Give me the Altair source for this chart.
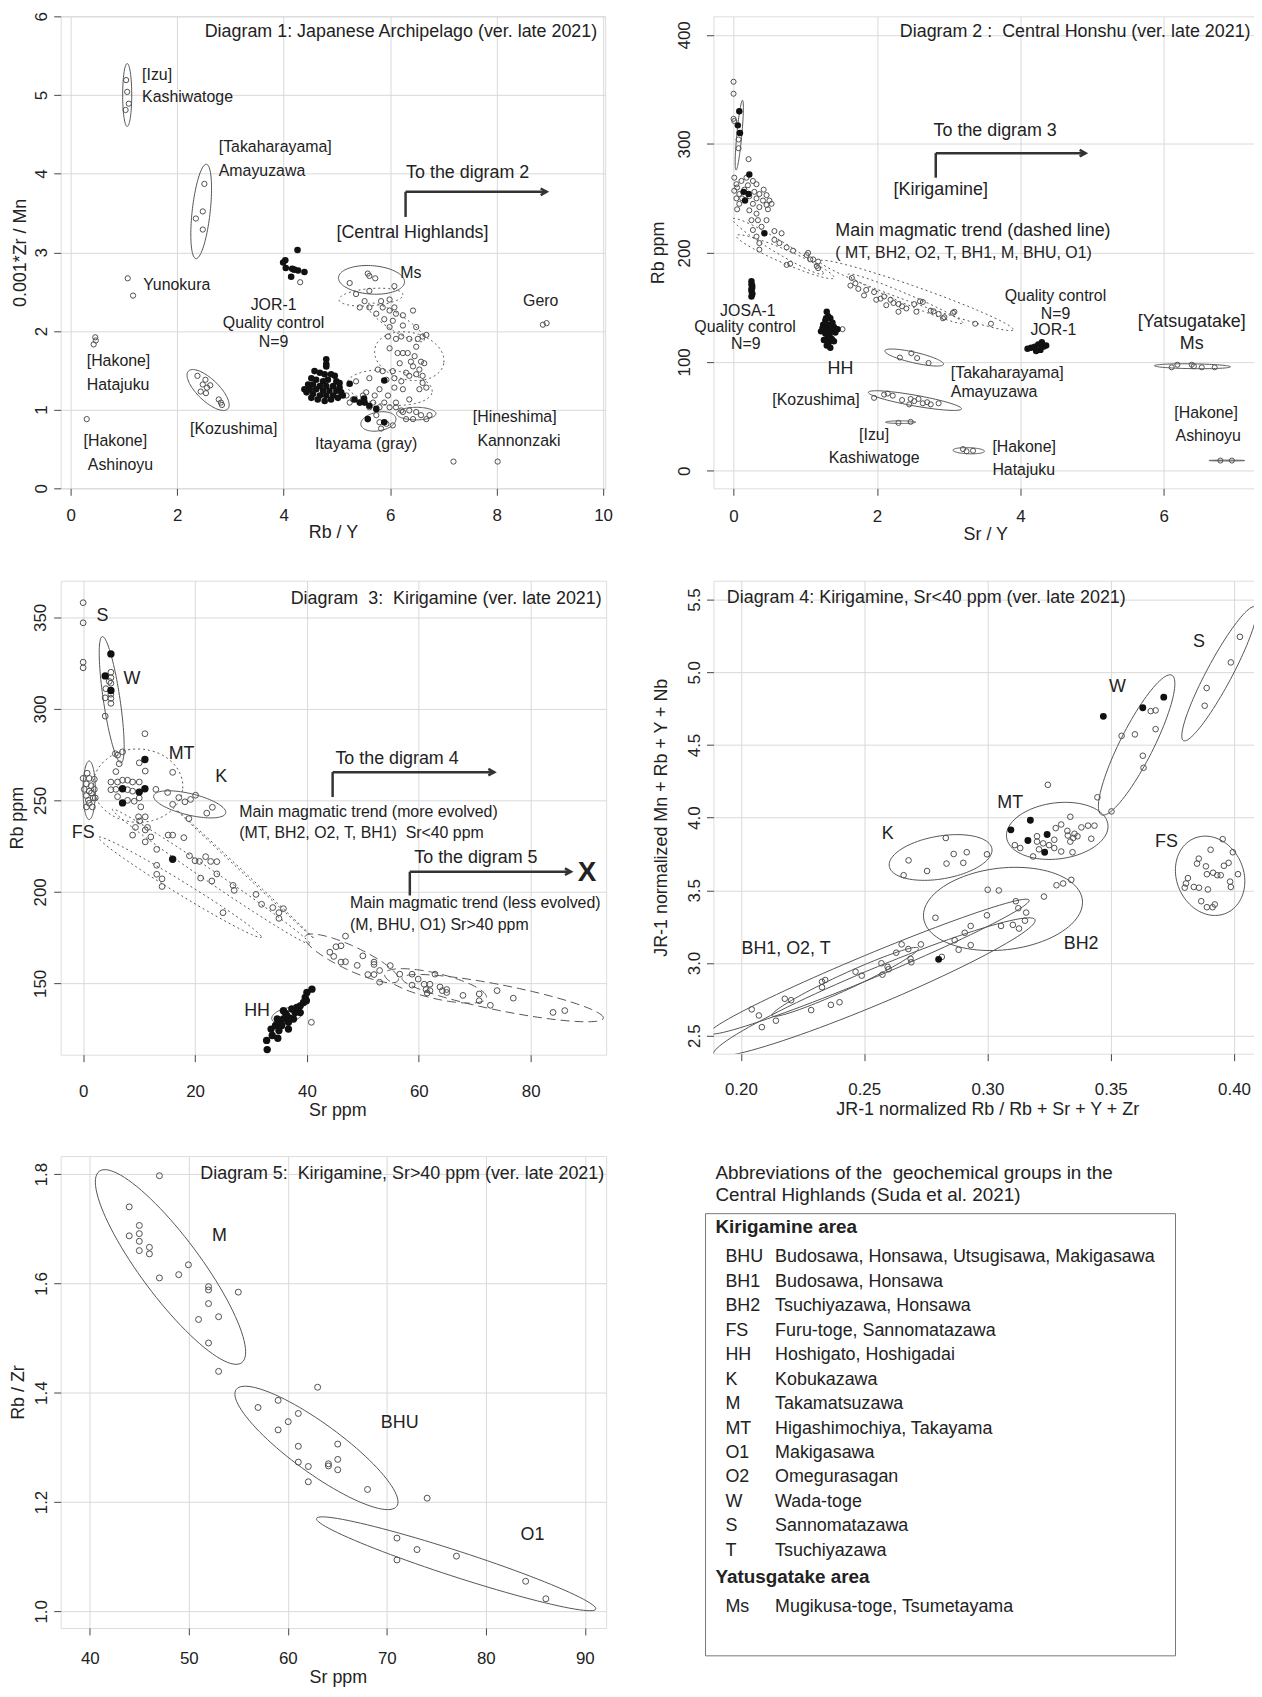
import altair as alt
import numpy as np
import pandas as pd

FONT = "Liberation Sans"
INK = "#222222"
PTC = "#505050"
GRID = "#d9d9d9"
NB = "\u00a0"

# ======================= Diagram 1 =======================
P1_OPEN_SIDE = [
    (1.04, 5.19), (1.06, 5.04), (1.09, 4.89), (1.03, 4.81),
    (2.51, 3.87), (2.48, 3.52), (2.35, 3.43), (2.48, 3.29),
    (1.07, 2.67), (1.17, 2.45),
    (0.46, 1.92), (0.43, 1.83), (0.47, 1.88),
    (0.30, 0.88),
    (2.38, 1.43), (2.53, 1.38), (2.62, 1.31), (2.48, 1.32), (2.44, 1.23), (2.56, 1.28),
    (2.54, 1.21), (2.78, 1.13), (2.82, 1.09), (2.84, 1.06),
    (8.87, 2.08), (8.94, 2.10),
    (7.19, 0.34), (8.02, 0.34),
    (4.31, 2.62),
]
P1_OPEN_CH = [
    (5.24, 2.61), (5.58, 2.73), (5.72, 2.67), (6.08, 2.57), (5.61, 2.70), (5.36, 2.47), (5.61, 2.51),
    (5.83, 2.38), (5.99, 2.40), (5.52, 2.38), (5.43, 2.30), (5.61, 2.30), (5.86, 2.30), (5.74, 2.22),
    (5.99, 2.26), (6.08, 2.30), (6.11, 2.22), (5.89, 2.15), (6.05, 2.13), (6.24, 2.20), (6.43, 2.26),
    (6.49, 2.05), (6.24, 2.07), (5.99, 2.05), (5.96, 1.93), (6.11, 1.90), (6.21, 1.93), (6.36, 1.90),
    (6.52, 1.90), (6.61, 1.93), (6.68, 1.95), (6.49, 1.80), (5.99, 1.78), (6.24, 1.72), (6.33, 1.72),
    (6.14, 1.72), (6.46, 1.68), (6.39, 1.61), (6.58, 1.61), (6.64, 1.59), (6.18, 1.59), (6.43, 1.55),
    (6.55, 1.51), (6.61, 1.43), (6.49, 1.45), (6.30, 1.47), (6.05, 1.49), (5.86, 1.49), (5.77, 1.51),
    (5.61, 1.40), (5.36, 1.36), (5.93, 1.38), (6.08, 1.40), (6.21, 1.36), (6.36, 1.43), (6.08, 1.28),
    (6.24, 1.26), (5.80, 1.26), (5.55, 1.22), (5.71, 1.18), (5.96, 1.18), (5.89, 1.09), (6.11, 1.09),
    (6.36, 1.13), (6.55, 1.26), (6.61, 1.34), (6.68, 1.28), (5.68, 1.09), (5.61, 1.03), (5.80, 1.03),
    (5.99, 1.03), (6.11, 1.03), (6.24, 0.97), (6.36, 0.99), (6.49, 0.97), (6.58, 0.93), (6.68, 0.88),
    (6.74, 0.93), (6.43, 0.88), (6.30, 0.88), (6.21, 0.99), (5.74, 0.93), (5.80, 0.84), (5.93, 0.82),
    (5.83, 0.76), (6.05, 0.80), (5.30, 1.13), (5.43, 1.09), (5.49, 1.18), (5.18, 1.18), (5.24, 1.09),
]
P1_FILLED = [
    (4.03, 2.90), (4.26, 3.03), (4.04, 2.80), (4.16, 2.79), (4.27, 2.77), (4.39, 2.75), (4.14, 2.69),
    (3.99, 2.87), (4.20, 2.78),
    (4.80, 1.64), (4.80, 1.58), (4.80, 1.55), (4.58, 1.49), (4.68, 1.47), (4.77, 1.45), (4.89, 1.45),
    (4.96, 1.43), (4.52, 1.40), (4.61, 1.38), (4.74, 1.36), (4.83, 1.38), (4.99, 1.36), (5.05, 1.34),
    (4.46, 1.32), (4.55, 1.32), (4.68, 1.30), (4.80, 1.30), (4.93, 1.30), (5.05, 1.28), (4.39, 1.26),
    (4.49, 1.26), (4.61, 1.26), (4.74, 1.24), (4.86, 1.24), (4.99, 1.24), (5.08, 1.22), (4.43, 1.22),
    (4.55, 1.20), (4.68, 1.18), (4.80, 1.18), (4.93, 1.18), (5.02, 1.15), (4.52, 1.15), (4.64, 1.13),
    (4.77, 1.11), (4.89, 1.13), (5.11, 1.18),
    (5.24, 1.33), (5.89, 1.37), (5.33, 1.13), (5.43, 1.09), (5.52, 1.09), (5.61, 1.05), (5.74, 1.01),
    (5.58, 0.88), (5.89, 0.84), (5.51, 1.14),
]
# ellipses: style, cx, cy, ax, ay, bx, by  (conjugate semi-axes in data units)
P1_ELL = [
    ("solid", 1.06, 5.00, 0.0, 0.40, 0.085, 0.0),
    ("solid", 2.45, 3.52, 0.095, 0.60, 0.17, 0.0),
    ("solid", 2.58, 1.25, 0.37, -0.24, 0.14, 0.10),
    ("solid", 5.65, 2.65, 0.62, -0.03, 0.02, 0.18),
    ("solid", 5.78, 0.85, 0.33, 0.03, 0.0, 0.12),
    ("solid", 6.49, 0.95, 0.37, 0.0, 0.0, 0.08),
    ("dot", 5.64, 2.43, 0.60, 0.03, 0.0, 0.11),
    ("dot", 6.11, 2.11, 0.53, -0.23, 0.085, 0.09),
    ("dot", 6.36, 1.68, 0.65, -0.08, 0.05, 0.30),
    ("dot", 5.99, 1.28, 0.80, -0.05, 0.03, 0.22),
]
# text: label, x, y, size, align
P1_TEXT = [
    ("Diagram 1: Japanese Archipelago (ver. late 2021)", 9.89, 5.80, 18, "right"),
    ("[Izu]", 1.34, 5.26, 16, "left"), ("Kashiwatoge", 1.34, 4.97, 16, "left"),
    ("[Takaharayama]", 2.78, 4.34, 16, "left"), ("Amayuzawa", 2.78, 4.03, 16, "left"),
    ("Yunokura", 1.36, 2.58, 16, "left"),
    ("[Hakone]", 0.30, 1.62, 16, "left"), ("Hatajuku", 0.30, 1.31, 16, "left"),
    ("[Hakone]", 0.24, 0.60, 16, "left"), ("Ashinoyu", 0.32, 0.30, 16, "left"),
    ("Ms", 6.19, 2.74, 16, "left"),
    ("JOR-1", 3.81, 2.33, 16, "center"), ("Quality control", 3.81, 2.10, 16, "center"),
    ("N=9", 3.81, 1.86, 16, "center"), ("[Kozushima]", 3.06, 0.75, 16, "center"),
    ("Itayama (gray)", 5.55, 0.56, 16, "center"), ("[Hineshima]", 8.34, 0.91, 16, "center"),
    ("Kannonzaki", 8.42, 0.60, 16, "center"), ("Gero", 8.83, 2.38, 16, "center"),
    ("[Central Highlands]", 6.42, 3.24, 18, "center"),
    ("To the digram 2", 6.30, 4.01, 18, "left"),
]
P1_ARROWS = [(6.29, 3.45, 6.29, 3.77), (6.29, 3.77, 8.94, 3.77)]
P1_HEADS = [(8.94, 3.77)]

# ======================= Diagram 2 =======================
P2_OPEN = [
    (0.00, 357), (0.00, 346), (0.00, 323), (0.01, 321), (0.08, 310), (0.07, 304), (0.07, 296), (0.21, 286),
    (0.01, 269), (0.04, 263), (0.11, 266), (0.18, 269), (0.27, 266), (0.32, 263), (0.01, 257), (0.08, 254),
    (0.29, 256), (0.36, 254), (0.46, 253), (0.50, 248), (0.41, 248), (0.32, 250), (0.04, 250), (0.08, 245),
    (0.27, 245), (0.36, 242), (0.46, 244), (0.53, 245), (0.22, 239), (0.32, 236), (0.25, 230), (0.34, 230),
    (0.46, 230), (0.27, 221), (0.39, 224), (0.57, 220), (0.67, 218), (0.32, 215), (0.36, 209), (0.57, 212),
    (0.64, 209), (0.74, 205), (0.83, 202), (0.74, 189), (0.79, 190), (1.02, 198), (1.07, 194), (1.11, 194),
    (1.18, 192), (1.16, 188), (0.36, 203), (1.04, 200), (1.18, 186), (0.05, 260), (0.15, 258), (0.20, 262),
    (0.12, 250), (0.22, 252), (0.42, 258), (0.48, 240), (0.05, 240),
    (1.65, 177), (1.63, 170), (1.74, 167), (1.82, 161), (1.96, 164), (1.99, 157), (2.10, 160), (2.19, 157),
    (2.13, 152), (2.30, 153), (2.41, 149), (2.52, 153), (2.64, 155), (2.55, 146), (2.75, 147), (2.86, 144),
    (2.94, 141), (3.08, 146), (3.37, 135), (3.59, 135), (2.30, 146), (2.23, 154), (2.60, 155.6),
    (2.79, 146.4), (2.92, 140), (3.06, 145), (1.70, 172), (1.85, 166), (2.05, 158), (2.35, 151),
    (2.32, 104), (2.48, 108), (2.56, 103.5), (2.72, 99),
    (1.96, 67), (2.10, 70), (2.15, 71), (2.22, 69), (2.47, 66), (2.52, 64), (2.64, 62), (2.75, 61),
    (2.86, 62), (2.45, 61), (2.58, 66), (2.70, 63), (2.35, 65),
    (2.30, 44), (2.47, 45),
    (3.20, 20), (3.25, 18), (3.34, 18.5),
    (6.11, 95), (6.19, 97.4), (6.39, 97.4), (6.42, 96), (6.53, 95), (6.71, 95),
    (6.79, 9.5), (6.95, 9.5),
    (1.52, 130),
]
P2_FILLED = [
    (0.08, 330), (0.06, 317), (0.09, 310), (0.22, 272), (0.14, 256), (0.21, 254), (0.16, 248), (0.43, 218),
    (0.25, 174), (0.25, 171), (0.26, 168), (0.25, 165), (0.26, 162), (0.25, 160), (0.26, 170), (0.25, 167),
    (0.26, 163),
    (1.30, 146), (1.32, 142), (1.35, 140), (1.28, 138), (1.38, 136), (1.25, 134), (1.33, 134), (1.40, 132),
    (1.30, 130), (1.36, 129), (1.22, 128), (1.28, 126), (1.34, 125), (1.42, 127), (1.31, 122), (1.37, 121),
    (1.26, 120), (1.33, 118), (1.40, 119), (1.30, 115), (1.35, 113), (1.24, 131), (1.45, 130), (1.29, 140),
    (4.10, 112), (4.15, 113), (4.20, 114), (4.25, 116), (4.28, 111), (4.32, 114), (4.36, 115), (4.22, 110),
    (4.30, 118),
]
P2_ELL = [
    ("solid", 0.08, 308, 0.045, 32, 0.035, 0),
    ("solid", 2.52, 104, 0.41, -6, 0, 5),
    ("solid", 2.53, 64.5, 0.65, -7.5, 0, 5),
    ("solid", 2.33, 44.7, 0.21, 0, 0, 1.2),
    ("solid", 3.28, 18.5, 0.22, -0.5, 0, 2.8),
    ("solid", 6.40, 96, 0.53, -0.5, 0, 2.2),
    ("solid", 6.88, 9.5, 0.25, 0, 0, 0.4),
    ("dot", 0.62, 206, 0.63, -24, -0.06, 9),
    ("dot", 0.72, 196.5, 0.68, -18.5, -0.05, 8),
    ("dot", 2.55, 161, 1.35, -31, -0.05, 9),
    ("dot", 2.40, 158, 0.80, -22, -0.04, 6),
]
P2_TEXT = [
    ("Diagram 2 :" + NB + " Central Honshu (ver. late 2021)", 7.21, 403, 18, "right"),
    ("To the digram 3", 2.79, 312, 18, "left"),
    ("[Kirigamine]", 2.89, 258, 18, "center"),
    ("Main magmatic trend (dashed line)", 1.42, 220, 18, "left"),
    ("( MT, BH2, O2, T, BH1, M, BHU, O1)", 1.42, 199.5, 16, "left"),
    ("JOSA-1", 0.20, 147, 16, "center"), ("Quality control", 0.16, 132, 16, "center"),
    ("N=9", 0.17, 116, 16, "center"),
    ("HH", 1.49, 93, 18, "center"),
    ("Quality control", 4.49, 160, 16, "center"), ("N=9", 4.49, 144, 16, "center"),
    ("JOR-1", 4.46, 129, 16, "center"),
    ("[Yatsugatake]", 6.39, 137, 18, "center"), ("Ms", 6.39, 116.5, 18, "center"),
    ("[Takaharayama]", 3.03, 90, 16, "left"), ("Amayuzawa", 3.03, 72, 16, "left"),
    ("[Kozushima]", 1.15, 65, 16, "center"),
    ("[Izu]", 1.96, 33, 16, "center"), ("Kashiwatoge", 1.96, 11.5, 16, "center"),
    ("[Hakone]", 3.61, 22, 16, "left"), ("Hatajuku", 3.61, 0.6, 16, "left"),
    ("[Hakone]", 6.59, 53.5, 16, "center"), ("Ashinoyu", 6.62, 32, 16, "center"),
]
P2_ARROWS = [(2.82, 269, 2.82, 291.5), (2.82, 291.5, 4.91, 291.5)]
P2_HEADS = [(4.91, 291.5)]

# ======================= Diagram 3 =======================
P3_OPEN = [
    (0.0, 358), (0.0, 347), (0.0, 325.5), (0.0, 322.4),
    (4.96, 320), (4.96, 317), (4.96, 314), (4.06, 311), (4.96, 308), (3.94, 306), (4.96, 305.7),
    (4.96, 303), (3.94, 296), (4.66, 315),
    (0.0, 262), (0.72, 264.8), (1.08, 262), (2.0, 261.5), (0.58, 259), (1.44, 258), (2.0, 256),
    (1.08, 255), (0.58, 252.6), (1.8, 251.3), (0.93, 250), (2.16, 251.3), (0.58, 246.4), (1.65, 246.4),
    (1.08, 248.4), (1.5, 254), (0.2, 256),
    (11.04, 286.4), (7.04, 276.5), (6.15, 274.7), (6.45, 270), (10.03, 270.5), (11.1, 266), (16.0, 265.3),
    (5.85, 265.7), (4.96, 260), (6.15, 260), (7.04, 261), (7.94, 261), (8.84, 260), (10.03, 260),
    (5.85, 256), (7.94, 255.8), (8.84, 255), (4.96, 255.8), (6.15, 252), (7.94, 250), (9.13, 249.5),
    (10.03, 251.3), (5.75, 275.5),
    (13.0, 256), (15.1, 254.3), (17.1, 251.5), (16.0, 247.8), (18.2, 249.2), (19.2, 250.5), (20.1, 252.8),
    (22.1, 243), (23.1, 246.2), (18.9, 240),
    (18.0, 229.6), (19.0, 219.7), (20.0, 217), (20.8, 216.6), (21.9, 219.2), (22.8, 216.6), (23.9, 216.5),
    (23.9, 209.8), (21.0, 207.5), (23.0, 205.9), (26.8, 203.5), (27.0, 200.8), (30.9, 198.6), (31.9, 193.2),
    (33.9, 191.4), (35.0, 188.6), (35.8, 190.8), (35.0, 185.5), (25.0, 188.6),
    (9.35, 235.2), (9.9, 241), (11.1, 241), (11.5, 235.2), (11.1, 227.3), (12.1, 230), (13.15, 223.2),
    (13.15, 214.5), (13.15, 209.6), (14.1, 207.1), (14.1, 202.9), (16.0, 231), (15.2, 231), (8.84, 231),
    (10.3, 246.4), (10.1, 238.7), (11.1, 233.8),
    (46.9, 175.8), (44.1, 167), (44.8, 164.7), (45.2, 170), (46.1, 170.5), (46.1, 161.6), (46.9, 161.8),
    (49.0, 159.8), (50.0, 165), (52.0, 161.6), (52.0, 160.3), (50.9, 154.8), (52.0, 154.8), (53.0, 157),
    (53.0, 150.6), (54.9, 159.7), (56.6, 155), (58.8, 155), (58.8, 149), (59.9, 152.3), (60.96, 149.5),
    (61.3, 146.6), (61.5, 144.7), (62.0, 149.5), (62.0, 146), (62.9, 155), (63.8, 148), (64.2, 146),
    (65.0, 146.6), (65.0, 145), (67.9, 143.4), (70.8, 144.2), (70.8, 140.5), (72.8, 138), (74.0, 146),
    (76.9, 141.9), (84.0, 134.1), (86.1, 135.1),
    (40.8, 128.7),
]
P3_FILLED = [
    (4.96, 330), (3.94, 318), (4.96, 310),
    (11.04, 272.3), (7.04, 256.3), (10.03, 254.5), (11.04, 256.3), (7.04, 248.6), (16.0, 217.8),
    (32.9, 113.8), (32.8, 118.8), (33.8, 121.5), (34.8, 120), (33.6, 125), (34.4, 127), (35.0, 128.7),
    (35.8, 130.5), (35.5, 127), (36.4, 132.3), (36.7, 128.7), (37.6, 130.5), (37.9, 134), (38.2, 136.8),
    (38.8, 137.7), (39.4, 139.5), (39.7, 142.3), (40.0, 145), (40.9, 146.8), (38.8, 134), (37.3, 136),
    (35.8, 135), (34.7, 130.5), (35.0, 124.2), (36.7, 125), (39.9, 140.5), (36.2, 133.5), (37.0, 131),
]
P3_ELL = [
    ("solid", 5.1, 305, -1.65, 34.5, 1.5, 0),
    ("solid", 1.08, 255.5, 0, 16, 1.1, 0),
    ("solid", 19.05, 247.8, 6.45, -4.35, 0, 6),
    ("solid", 36.5, 132.5, 2.6, 3, -1.0, 3.2),
    ("dot", 9.8, 258, 8, -1.5, 0.5, 20),
    ("dot", 17.3, 202.5, 14.5, -26.7, -1.3, 6.5),
    ("dot", 22.9, 208.3, 17.6, -36.2, -1.6, 7.2),
    ("dot", 29.0, 209.6, 12.2, -34.8, -1.7, 5.5),
    ("dash", 48.0, 163.6, 8.3, -10.2, -1.13, 8.6),
    ("dash", 63.0, 148.6, 9.1, -5.8, -0.5, 7.4),
    ("dash", 75.0, 141.9, 18.0, -10.6, -0.47, 7.4),
]
P3_TEXT = [
    ("Diagram" + NB + " 3:" + NB + " Kirigamine (ver. late 2021)", 92.7, 360, 18, "right"),
    ("S", 3.45, 350.6, 18, "center"), ("W", 8.7, 316.5, 18, "center"), ("MT", 17.6, 275.5, 18, "center"),
    ("K", 24.7, 262.9, 18, "center"), ("FS", 0.0, 231.9, 18, "center"), ("HH", 31.1, 135, 18, "center"),
    ("To the digram 4", 45.1, 272.6, 18, "left"), ("To the digram 5", 59.2, 218.3, 18, "left"),
    ("Main magmatic trend (more evolved)", 27.9, 243.5, 16, "left"),
    ("(MT, BH2, O2, T, BH1)" + NB + " Sr<40 ppm", 27.9, 231.9, 16, "left"),
    ("Main magmatic trend (less evolved)", 47.7, 193.8, 16, "left"),
    ("(M, BHU, O1) Sr>40 ppm", 47.7, 182.1, 16, "left"),
]
P3_ARROWS = [(44.6, 251.8, 44.6, 265.4), (44.6, 265.4, 73.5, 265.4),
             (58.4, 198.0, 58.4, 211.0), (58.4, 211.0, 87.2, 211.0)]
P3_HEADS = [(73.5, 265.4), (87.2, 211.0)]
P3_CROSS = [(90.1, 210.2)]

# ======================= Diagram 4 =======================
P4_OPEN = [
    (0.4024, 5.244), (0.3987, 5.068), (0.3889, 4.892), (0.3881, 4.770),
    (0.3682, 4.738), (0.3662, 4.733), (0.3682, 4.609), (0.3544, 4.563), (0.3598, 4.573), (0.3630, 4.426),
    (0.3633, 4.343), (0.3446, 4.140), (0.3503, 4.043),
    (0.3245, 4.226), (0.3111, 3.811), (0.3133, 3.791), (0.3185, 3.733), (0.3201, 3.835), (0.3201, 3.872),
    (0.3226, 3.823), (0.3209, 3.782), (0.3271, 3.848), (0.3277, 3.928), (0.3299, 3.953), (0.3324, 3.909),
    (0.3336, 4.006), (0.3326, 3.877), (0.3336, 3.835), (0.3348, 3.860), (0.3353, 3.889), (0.3365, 3.872),
    (0.3381, 3.933), (0.3408, 3.945), (0.3434, 3.945), (0.3421, 3.855), (0.3299, 3.767), (0.3345, 3.762),
    (0.3250, 3.811), (0.3271, 3.791),
    (0.2831, 3.860), (0.2660, 3.604), (0.2680, 3.706), (0.2755, 3.633), (0.2834, 3.684), (0.2863, 3.750),
    (0.2902, 3.689), (0.2916, 3.762), (0.2998, 3.748),
    (0.3954, 3.852), (0.3905, 3.779), (0.3813, 3.584), (0.3805, 3.547), (0.3800, 3.518), (0.3857, 3.718),
    (0.3850, 3.684), (0.3886, 3.665), (0.3915, 3.621), (0.3932, 3.604), (0.3946, 3.604), (0.3890, 3.611),
    (0.3959, 3.669), (0.3978, 3.689), (0.3995, 3.762), (0.4016, 3.611), (0.3984, 3.560), (0.3987, 3.523),
    (0.3837, 3.523), (0.3858, 3.518), (0.3894, 3.506), (0.3867, 3.425), (0.3890, 3.384), (0.3913, 3.384),
    (0.3922, 3.403),
    (0.3340, 3.572), (0.3307, 3.547), (0.3280, 3.535), (0.3229, 3.457), (0.3046, 3.499), (0.3001, 3.504),
    (0.2789, 3.311), (0.2998, 3.328), (0.3115, 3.425), (0.3125, 3.377), (0.3055, 3.255), (0.3103, 3.262),
    (0.3157, 3.347), (0.3152, 3.291), (0.3128, 3.237), (0.2932, 3.255), (0.2908, 3.208), (0.2867, 3.157),
    (0.2932, 3.123), (0.2883, 3.091),
    (0.2044, 2.681), (0.2073, 2.639), (0.2085, 2.559), (0.2142, 2.603), (0.2178, 2.754), (0.2204, 2.744),
    (0.2285, 2.676), (0.2329, 2.871), (0.2342, 2.883), (0.2329, 2.833), (0.2365, 2.712), (0.2400, 2.730),
    (0.2465, 2.940), (0.2490, 2.913), (0.2570, 2.998), (0.2574, 2.920), (0.2595, 2.974), (0.2599, 2.957),
    (0.2630, 3.071), (0.2652, 3.128), (0.2679, 3.096), (0.2688, 3.030), (0.2691, 3.005), (0.2730, 3.128),
    (0.2815, 3.042),
]
P4_FILLED = [
    (0.3470, 4.697), (0.3630, 4.756), (0.3715, 4.829),
    (0.3095, 3.916), (0.3174, 3.982), (0.3164, 3.843), (0.3242, 3.884), (0.3232, 3.762),
    (0.2802, 3.025),
]
P4_ELL = [
    ("solid", 0.3940, 4.990, 0.0145, 0.46, -0.0045, 0.04),
    ("solid", 0.3605, 4.500, 0.0143, 0.48, -0.0060, 0.053),
    ("solid", 0.3283, 3.909, 0.0205, 0.05, -0.0020, 0.19),
    ("solid", 0.2810, 3.726, 0.0208, 0.061, -0.0015, 0.145),
    ("solid", 0.3903, 3.600, 0.0135, 0.04, -0.0040, 0.27),
    ("solid", 0.3063, 3.372, 0.0320, 0.08, -0.0040, 0.275),
    ("solid", 0.2521, 2.975, 0.0648, 0.458, -0.0020, 0.075),
    ("solid", 0.2541, 2.834, 0.0652, 0.464, -0.0030, 0.11),
    ("solid", 0.2423, 2.870, 0.0297, 0.232, -0.0013, 0.05),
]
P4_TEXT = [
    ("Diagram 4: Kirigamine, Sr<40 ppm (ver. late 2021)", 0.1943, 5.512, 18, "left"),
    ("S", 0.3858, 5.207, 18, "center"), ("W", 0.3527, 4.902, 18, "center"),
    ("MT", 0.3092, 4.104, 18, "center"), ("K", 0.2595, 3.889, 18, "center"),
    ("FS", 0.3726, 3.835, 18, "center"), ("BH2", 0.3380, 3.132, 18, "center"),
    ("BH1, O2, T", 0.2183, 3.098, 18, "center"),
]

# ======================= Diagram 5 =======================
P5_OPEN = [
    (47.03, 1.797), (43.98, 1.740), (45.0, 1.706), (43.98, 1.687), (45.0, 1.691), (45.0, 1.677),
    (45.0, 1.660), (46.02, 1.666), (46.02, 1.654), (47.03, 1.610), (48.98, 1.616), (49.96, 1.634),
    (51.99, 1.594), (51.99, 1.588), (51.99, 1.563), (50.98, 1.534), (53.01, 1.539), (55.0, 1.584),
    (51.99, 1.491), (53.01, 1.439),
    (63.01, 1.410), (56.99, 1.373), (59.02, 1.386), (59.02, 1.332), (60.04, 1.347), (61.06, 1.362),
    (61.06, 1.302), (61.06, 1.273), (62.07, 1.265), (62.07, 1.237), (64.1, 1.270), (64.1, 1.266),
    (65.04, 1.306), (65.04, 1.278), (65.04, 1.259), (68.05, 1.223), (74.07, 1.207),
    (71.02, 1.134), (71.02, 1.094), (73.05, 1.113), (77.03, 1.101), (84.02, 1.055), (86.06, 1.023),
]
P5_ELL = [
    ("solid", 48.15, 1.630, 7.2, -0.175, 2.4, 0.033),
    ("solid", 62.89, 1.299, 8.1, -0.107, 1.5, 0.036),
    ("solid", 77.0, 1.087, 14.1, -0.083, 0.45, 0.022),
]
P5_TEXT = [
    ("Diagram 5:" + NB + " Kirigamine, Sr>40 ppm (ver. late 2021)", 91.95, 1.800, 18, "right"),
    ("M", 53.1, 1.687, 18, "center"), ("BHU", 71.3, 1.345, 18, "center"), ("O1", 84.7, 1.139, 18, "center"),
]

# ======================= Abbreviation table =======================
LEG_TITLE = [("Abbreviations of the" + NB + " geochemical groups in the", -3.455),
             ("Central Highlands (Suda et al. 2021)", -2.561)]
LEG_HEADERS = [("Kirigamine area", -1.25), ("Yatusgatake area", 13.08)]
LEG_ABBR = ["BHU", "BH1", "BH2", "FS", "HH", "K", "M", "MT", "O1", "O2", "W", "S", "T", "Ms"]
LEG_NAME = ["Budosawa, Honsawa, Utsugisawa, Makigasawa", "Budosawa, Honsawa", "Tsuchiyazawa, Honsawa",
            "Furu-toge, Sannomatazawa", "Hoshigato, Hoshigadai", "Kobukazawa", "Takamatsuzawa",
            "Higashimochiya, Takayama", "Makigasawa", "Omegurasagan", "Wada-toge", "Sannomatazawa",
            "Tsuchiyazawa", "Mugikusa-toge, Tsumetayama"]
LEG_LINE = [0, 1, 2, 3, 4, 5, 6, 7, 8, 9, 10, 11, 12, 14.3]
LEG_BOX = [(-1.789, 16.297)]

ARROW_HEAD = "M -2 -1.1 L 0 0 L -2 1.1"


def ell_df(specs):
    t = np.linspace(0, 2 * np.pi, 97)
    rows = []
    for k, (style, cx, cy, ax, ay, bx, by) in enumerate(specs):
        for i, tt in enumerate(t):
            rows.append({"eid": k, "ord": i, "style": style,
                         "x": cx + ax * np.cos(tt) + bx * np.sin(tt),
                         "y": cy + ay * np.cos(tt) + by * np.sin(tt)})
    return pd.DataFrame(rows, columns=["eid", "ord", "style", "x", "y"])


def make_panel(c):
    w, h = c["w"], c["h"]
    ext = c.get("ext", 0)
    ppu = w / (c["xdom"][1] - c["xdom"][0])
    xs = alt.Scale(domain=[c["xdom"][0] - ext / ppu, c["xdom"][1]], nice=False, zero=False)
    ys = alt.Scale(domain=c["ydom"], nice=False, zero=False)
    xax = alt.Axis(title=c["xtitle"], values=c["xt"], format=c["xfmt"], grid=True, gridColor=GRID,
                   gridWidth=1, domain=False, ticks=True, tickSize=7, tickColor="#444", tickWidth=1,
                   labelFont=FONT, labelFontSize=17, labelColor=INK, labelPadding=c["xlab"] - 7,
                   labelBaseline="middle", labelAlign="center", labelFlush=False, labelOverlap=False,
                   labelBound=False, titleFont=FONT, titleFontSize=18, titleFontWeight="normal",
                   titleColor=INK, titleX=ext + w / 2, titleY=c["xtit"], titleAlign="center",
                   titleBaseline="middle", titleAngle=0)
    yax = alt.Axis(title=c["ytitle"], values=c["yt"], format=c["yfmt"], grid=True, gridColor=GRID,
                   gridWidth=1, domain=False, ticks=True, tickSize=7, tickColor="#444", tickWidth=1,
                   labelFont=FONT, labelFontSize=17, labelColor=INK, labelPadding=c["ylab"] - 13 - ext,
                   labelAngle=270, labelBaseline="alphabetic", labelAlign="center", labelFlush=False,
                   labelOverlap=False, labelBound=False, titleFont=FONT, titleFontSize=18,
                   titleFontWeight="normal", titleColor=INK, titleX=ext - c["ytit"], titleY=h / 2,
                   titleAlign="center", titleBaseline="middle", titleAngle=270)

    def X(f="x"):
        return alt.X(f + ":Q", scale=xs, axis=xax)

    def Y(f="y"):
        return alt.Y(f + ":Q", scale=ys, axis=yax)

    layers = []
    ed = ell_df(c["ells"])
    for style, dash in [("solid", None), ("dot", [2, 3]), ("dash", [9, 5])]:
        sub = ed[ed["style"] == style]
        if len(sub) == 0:
            continue
        kw = dict(clip=True, color="#555", strokeWidth=1)
        if dash:
            kw["strokeDash"] = dash
        layers.append(alt.Chart(sub).mark_line(**kw).encode(
            x=X(), y=Y(), detail="eid:N", order="ord:Q"))
    if c["open"]:
        layers.append(alt.Chart(pd.DataFrame(c["open"], columns=["x", "y"])).mark_point(
            shape="circle", filled=False, color=PTC, strokeWidth=1, size=c["os"], opacity=1, clip=True
        ).encode(x=X(), y=Y()))
    if c.get("filled"):
        layers.append(alt.Chart(pd.DataFrame(c["filled"], columns=["x", "y"])).mark_point(
            shape="circle", filled=True, color="#111", size=c["fs"], opacity=1, clip=True
        ).encode(x=X(), y=Y()))
    td = pd.DataFrame(c["text"], columns=["t", "x", "y", "size", "align"])
    for (al, sz), sub in td.groupby(["align", "size"]):
        layers.append(alt.Chart(sub).mark_text(
            font=FONT, fontSize=int(sz), align=al, baseline="middle", color=INK
        ).encode(x=X(), y=Y(), text="t:N"))
    if c.get("arrows"):
        layers.append(alt.Chart(pd.DataFrame(c["arrows"], columns=["x", "y", "x2", "y2"])).mark_rule(
            color="#333", strokeWidth=2.5).encode(x=X(), y=Y(), x2="x2:Q", y2="y2:Q"))
        layers.append(alt.Chart(pd.DataFrame(c["heads"], columns=["x", "y"])).mark_point(
            shape=ARROW_HEAD, filled=False, color="#333", strokeWidth=2.5, size=36, opacity=1
        ).encode(x=X(), y=Y()))
    if c.get("cross"):
        layers.append(alt.Chart(pd.DataFrame(c["cross"], columns=["x", "y"]).assign(t="X")).mark_text(
            font=FONT, fontSize=28, fontWeight="bold", align="center", baseline="middle", color="#222"
        ).encode(x=X(), y=Y(), text="t:N"))
    return alt.layer(*layers).properties(width=w + ext, height=h)


p1 = make_panel(dict(w=548, h=475, xdom=[-0.19, 10.04], ydom=[0, 6], xt=[0, 2, 4, 6, 8, 10],
                     yt=[0, 1, 2, 3, 4, 5, 6], xfmt="d", yfmt="d", xtitle="Rb / Y",
                     ytitle="0.001*Zr / Mn", xlab=27, xtit=44, ylab=20.5, ytit=40,
                     ells=P1_ELL, open=P1_OPEN_SIDE + P1_OPEN_CH, filled=P1_FILLED, os=28, fs=44,
                     text=P1_TEXT, arrows=P1_ARROWS, heads=P1_HEADS))
p2 = make_panel(dict(w=547, h=475, xdom=[-0.28, 7.3], ydom=[-16, 417], xt=[0, 2, 4, 6],
                     yt=[0, 100, 200, 300, 400], xfmt="d", yfmt="d", xtitle="Sr / Y", ytitle="Rb ppm",
                     xlab=28, xtit=46, ylab=30, ytit=55,
                     ells=P2_ELL, open=P2_OPEN, filled=P2_FILLED, os=26, fs=42,
                     text=P2_TEXT, arrows=P2_ARROWS, heads=P2_HEADS))
p3 = make_panel(dict(w=541, h=477, ext=8, xdom=[-2.6, 93.5], ydom=[111, 370], xt=[0, 20, 40, 60, 80],
                     yt=[150, 200, 250, 300, 350], xfmt="d", yfmt="d", xtitle="Sr ppm", ytitle="Rb ppm",
                     xlab=37, xtit=56, ylab=29, ytit=51,
                     ells=P3_ELL, open=P3_OPEN, filled=P3_FILLED, os=34, fs=55,
                     text=P3_TEXT, arrows=P3_ARROWS, heads=P3_HEADS, cross=P3_CROSS))
p4 = make_panel(dict(w=537, h=476, ext=7, xdom=[0.1917, 0.4081], ydom=[2.376, 5.63],
                     xt=[0.20, 0.25, 0.30, 0.35, 0.40], yt=[2.5, 3.0, 3.5, 4.0, 4.5, 5.0, 5.5],
                     xfmt=".2f", yfmt=".1f", xtitle="JR-1 normalized Rb / Rb + Sr + Y + Zr",
                     ytitle="JR-1 normalized Mn + Rb + Y + Nb", xlab=36, xtit=56, ylab=27, ytit=59,
                     ells=P4_ELL, open=P4_OPEN, filled=P4_FILLED, os=32, fs=48, text=P4_TEXT))
p5 = make_panel(dict(w=540, h=475, ext=9, xdom=[37.96, 92.15], ydom=[0.9695, 1.833],
                     xt=[40, 50, 60, 70, 80, 90], yt=[1.0, 1.2, 1.4, 1.6, 1.8], xfmt="d", yfmt=".1f",
                     xtitle="Sr ppm", ytitle="Rb / Zr", xlab=31, xtit=50, ylab=29, ytit=51,
                     ells=P5_ELL, open=P5_OPEN, filled=None, os=36, fs=40, text=P5_TEXT))

# ---- abbreviation table (its column starts 8 px right of the box) ----
leg_scale = alt.Scale(domain=[-4.146, 16.297], reverse=True, nice=False, zero=False)


def LY(f):
    return alt.Y(f + ":Q", scale=leg_scale, axis=None)


leg_rows = pd.DataFrame({"abbr": LEG_ABBR, "name": LEG_NAME, "line": LEG_LINE})
leg_head = pd.DataFrame(LEG_HEADERS, columns=["t", "line"])
leg_title = pd.DataFrame(LEG_TITLE, columns=["t", "line"])
leg_box = pd.DataFrame(LEG_BOX, columns=["line", "line2"])
lbase = alt.Chart(leg_rows)
leg = alt.layer(
    alt.Chart(leg_box).mark_rect(fillOpacity=0, stroke="#777", strokeWidth=1).encode(
        x=alt.value(-8), x2=alt.value(465), y=LY("line"), y2="line2:Q"),
    alt.Chart(leg_title).mark_text(font=FONT, fontSize=19, align="left", baseline="middle",
                                   color=INK).encode(x=alt.value(2), y=LY("line"), text="t:N"),
    alt.Chart(leg_head).mark_text(font=FONT, fontSize=19, fontWeight="bold", align="left",
                                  baseline="middle", color=INK).encode(
        x=alt.value(2), y=LY("line"), text="t:N"),
    lbase.mark_text(font=FONT, fontSize=18, align="left", baseline="middle", color=INK).encode(
        x=alt.value(12), y=LY("line"), text="abbr:N"),
    lbase.mark_text(font=FONT, fontSize=18, align="left", baseline="middle", color=INK).encode(
        x=alt.value(62), y=LY("line"), text="name:N"),
).properties(width=465, height=503, view=alt.ViewBackground(stroke="transparent"))


def spacer(w, h):
    return alt.Chart(pd.DataFrame({"a": [0]})).mark_point(opacity=0).encode(
        x=alt.value(0), y=alt.value(0)).properties(
        width=w, height=h, view=alt.ViewBackground(stroke="transparent"))


chart = alt.concat(
    p1, spacer(108, 1), p2,
    p3, spacer(108, 486), p4,
    p5, spacer(108, 1), leg,
    columns=3, spacing={"row": 93, "column": 0}, bounds="flush",
    align={"row": "each", "column": "each"},
).properties(
    autosize=alt.AutoSizeParams(type="none"),
    padding={"left": 53, "top": 3, "right": 1201, "bottom": 1683},
).configure_view(stroke="#444", strokeWidth=1.5).configure(background="white")

chart.save("out.html", embed_options={"renderer": "svg", "actions": False})
